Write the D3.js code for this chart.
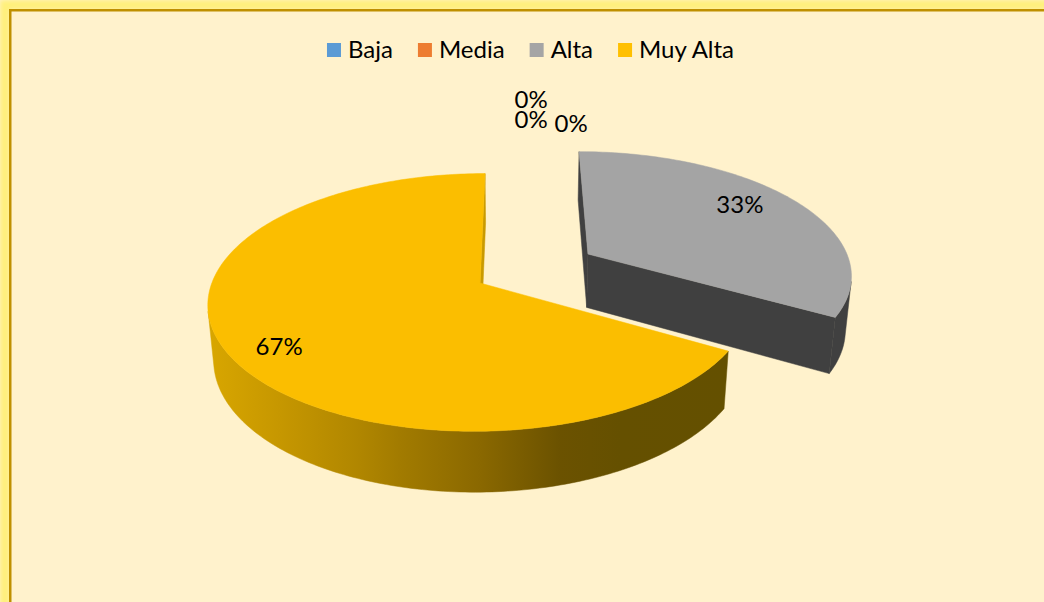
<!DOCTYPE html>
<html><head><meta charset="utf-8">
<script src="https://cdn.jsdelivr.net/npm/d3@7"></script>
<style>body{margin:0;background:#FFF2CC;} svg{display:block}</style>
</head><body><svg id="c" width="1044" height="602"></svg>
<script>
// ---- data ----
const categories = ["Baja", "Media", "Alta", "Muy Alta", ""];
const values = [0, 0, 1, 2, 0];
const legendLabels = ["Baja", "Media", "Alta", "Muy Alta"];
const legendColors = ["#5B9BD5", "#ED7D31", "#A5A5A5", "#FFC000"];
const topColors = ["#5B9BD5", "#ED7D31", "#A4A4A4", "#FBBE00", "#5B9BD5"];
const explodedCategory = "Alta";

// ---- setup ----
const W = 1044, H = 602;
const svg = d3.select("#c");
const defs = svg.append("defs");
const fl = defs.append("filter").attr("id", "glow")
  .attr("x", "-5%").attr("y", "-5%").attr("width", "110%").attr("height", "110%");
fl.append("feGaussianBlur").attr("stdDeviation", 2.5);

svg.append("rect").attr("width", W).attr("height", H).attr("fill", "#FFF2CC");
svg.append("rect").attr("x", 5).attr("y", 5).attr("width", 1200).attr("height", 800)
  .attr("fill", "none").attr("stroke", "#FFF07A").attr("stroke-width", 10).attr("filter", "url(#glow)");
svg.append("rect").attr("x", 10.25).attr("y", 10.25).attr("width", 1200).attr("height", 800)
  .attr("fill", "#FFF2CC").attr("stroke", "#BF9000").attr("stroke-width", 2.5);

// gradient for yellow side
const grad = defs.append("linearGradient").attr("id", "ySide")
  .attr("gradientUnits", "userSpaceOnUse").attr("x1", 205).attr("x2", 730).attr("y1", 0).attr("y2", 0);
[[0, "#D9A700"], [0.143, "#C69700"], [0.295, "#B08600"], [0.371, "#A27B00"],
 [0.524, "#8A6800"], [0.676, "#6B5200"], [0.79, "#655000"], [1, "#645000"]]
  .forEach(([o, c]) => grad.append("stop").attr("offset", o).attr("stop-color", c));

// ---- 3D projection ----
const D = 5.86, alpha = 28 * Math.PI / 180, F = 1572, CX = 518, CY = 283, OX = -0.1413;
const HGT = 0.235, EXPL = 0.475;
const sa = Math.sin(alpha), ca = Math.cos(alpha);
const cam = [-OX, D * sa, D * ca];
function proj(X, Y, Z) {
  const qx = X + OX, qy = Y - D * sa, qz = Z - D * ca;
  const yc = qy * ca - qz * sa, zc = -qy * sa - qz * ca;
  return [CX + F * qx / zc, CY - F * yc / zc];
}
function depth(X, Y, Z) {
  const qy = Y - D * sa, qz = Z - D * ca;
  return -qy * sa - qz * ca;
}

const pie = d3.pie().sort(null).value(d => d.v).startAngle(0).endAngle(2 * Math.PI);
const data = categories.map((c, i) => ({ c, v: values[i], i }));
const arcs = pie(data);
const total = d3.sum(values);
const pct = d3.format(".0%");
const line = d3.line().curve(d3.curveLinearClosed);

const slices = arcs.map(a => {
  const mid = (a.startAngle + a.endAngle) / 2;
  const e = a.data.c === explodedCategory ? EXPL : 0;
  const ox = e * Math.sin(mid), oz = -e * Math.cos(mid);
  return { a, mid, ox, oz, d: depth(ox + 0.5 * Math.sin(mid), 0, oz - 0.5 * Math.cos(mid)) };
});

const g = svg.append("g");
const angleStep = Math.PI / 180;
const pt = (s, t, r, y) => proj(s.ox + r * Math.sin(t), y, s.oz - r * Math.cos(t));

slices.filter(s => s.a.value > 0).sort((p, q) => q.d - p.d).forEach(s => {
  const a0 = s.a.startAngle, a1 = s.a.endAngle, i = s.a.data.i;
  const isGold = s.a.data.c === "Muy Alta";
  const sideFill = isGold ? "url(#ySide)" : "#404040";
  const faceFill = isGold ? "#C99A00" : "#404040";
  const n = Math.max(2, Math.ceil((a1 - a0) / angleStep));
  const ts = d3.range(n + 1).map(k => a0 + (a1 - a0) * k / n);
  // outer side visibility per segment
  const vis = d3.range(n).map(k => {
    const t = (ts[k] + ts[k + 1]) / 2;
    const P = [s.ox + Math.sin(t), -HGT / 2, s.oz - Math.cos(t)];
    const nrm = [Math.sin(t), 0, -Math.cos(t)];
    return nrm[0] * (cam[0] - P[0]) + nrm[2] * (cam[2] - P[2]) > 0;
  });
  let k = 0;
  while (k < n) {
    if (!vis[k]) { k++; continue; }
    let m = k;
    while (m < n && vis[m]) m++;
    const seg = ts.slice(k, m + 1);
    const poly = seg.map(t => pt(s, t, 1, 0)).concat(seg.slice().reverse().map(t => pt(s, t, 1, -HGT)));
    g.append("path").attr("d", line(poly)).attr("fill", sideFill).attr("stroke", sideFill).attr("stroke-width", 0.5);
    k = m;
  }
  // radial faces
  [[a0, -1], [a1, 1]].forEach(([t, sg]) => {
    const nrm = [sg * Math.cos(t), 0, sg * Math.sin(t)];
    const P = [s.ox, -HGT / 2, s.oz];
    if (nrm[0] * (cam[0] - P[0]) + nrm[2] * (cam[2] - P[2]) > 0) {
      const poly = [pt(s, t, 0, 0), pt(s, t, 1, 0), pt(s, t, 1, -HGT), pt(s, t, 0, -HGT)];
      g.append("path").attr("d", line(poly)).attr("fill", faceFill).attr("stroke", faceFill).attr("stroke-width", 0.5);
    }
  });
  // top
  const top = [pt(s, a0, 0, 0)].concat(ts.map(t => pt(s, t, 1, 0)));
  g.append("path").attr("d", line(top)).attr("fill", topColors[i]).attr("stroke", topColors[i]).attr("stroke-width", 0.5);
});

// ---- data labels ----
const font = "Lato, 'Open Sans', sans-serif";
const lab = svg.append("g").attr("font-family", font).attr("font-size", 24).attr("fill", "#000")
  .attr("text-anchor", "middle");
const labelShift = { "Alta": [-4, -8], "Muy Alta": [-14, 14] };
slices.filter(s => s.a.value > 0).forEach(s => {
  const p = pt(s, s.mid, 0.75, 0);
  const sh = labelShift[s.a.data.c] || [0, 0];
  lab.append("text").attr("x", p[0] + sh[0]).attr("y", p[1] + sh[1]).attr("dy", "0.35em")
    .text(pct(s.a.value / total));
});
// zero-value labels stacked near the top of the pie
const zeroSl = slices.filter(s => s.a.value === 0);
const yFar = proj(0, 0, -1);
const gFar = pt(slices.find(s => s.a.data.c === explodedCategory), 0, 1, 0);
const anchor = [(yFar[0] + gFar[0]) / 2, (yFar[1] + gFar[1]) / 2];
const zeroOffsets = [[-1, -63], [-1, -43], [39, -39]];
zeroSl.forEach((s, j) => {
  const o = zeroOffsets[j % zeroOffsets.length];
  lab.append("text").attr("x", anchor[0] + o[0]).attr("y", anchor[1] + o[1]).attr("dy", "0.35em")
    .text(pct(s.a.value / total));
});

// ---- legend ----
const leg = svg.append("g").attr("font-family", font).attr("font-size", 24).attr("fill", "#000");
const items = legendLabels.map((l, i) => {
  const it = leg.append("g");
  it.append("rect").attr("width", 14).attr("height", 14).attr("y", -7).attr("fill", legendColors[i]);
  const t = it.append("text").attr("x", 21).attr("dy", "0.35em").text(l);
  return { it, w: 21 + t.node().getComputedTextLength() };
});
const gap = 25;
const totalW = d3.sum(items, d => d.w) + gap * (items.length - 1);
let x0 = 530.5 - totalW / 2;
items.forEach(d => { d.it.attr("transform", `translate(${x0},50)`); x0 += d.w + gap; });
</script></body></html>
